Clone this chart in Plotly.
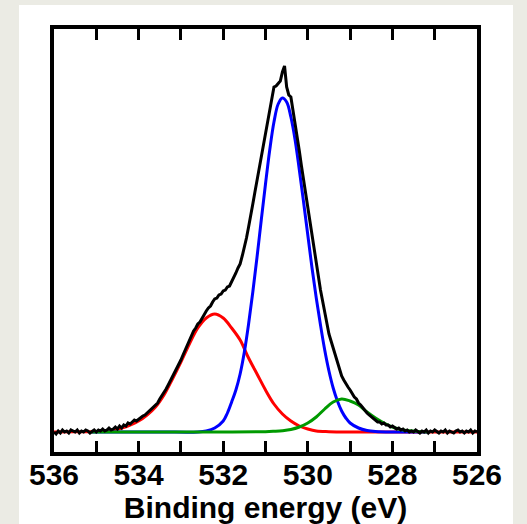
import plotly.graph_objects as go

# ---- data (binding energy in eV, intensity in arbitrary units) ----
energy_data = [round(536.0 - 0.05 * i, 2) for i in range(201)]
intensity_data = [
    0, -2, 1, -1, 2, 0, 1, -1, 2, 1,
    0, 2, -1, 1, 0, 2, 1, -1, 1, 2,
    0, 2, 1, 3, 1, 2, 4, 2, 3, 5,
    3, 6, 4, 7, 6, 9, 8, 10, 12, 11,
    13, 14, 16, 17, 19, 21, 22, 25, 27, 29,
    33, 36, 39, 43, 47, 51, 55, 60, 64, 68,
    72, 77, 82, 86, 92, 96, 101, 104, 108, 110,
    114, 117, 121, 124, 126, 130, 133, 134, 137, 138,
    141, 142, 145, 146, 150, 155, 159, 164, 168, 176,
    184, 194, 205, 215, 228, 240, 252, 263, 274, 288,
    300, 313, 324, 334, 345, 346, 349, 351, 360, 366,
    345, 337, 335, 322, 310, 296, 281, 266, 252, 239,
    226, 212, 197, 183, 170, 155, 142, 131, 119, 109,
    98, 91, 84, 77, 69, 62, 56, 52, 48, 45,
    42, 38, 35, 33, 29, 27, 24, 22, 19, 17,
    15, 13, 12, 10, 10, 8, 9, 7, 7, 5,
    6, 4, 3, 4, 2, 3, 1, 2, 0, 1,
    0, 2, 0, -1, 1, 0, 2, -1, 1, 0,
    2, 0, -1, 1, 0, 2, -1, 1, 0, -1,
    1, 2, 0, 1, -1, 1, 0, 2, -1, 1,
    0,
]

energy_red = [536.0, 535.5, 535.0, 534.8, 534.6, 534.4, 534.2, 534.0, 533.8, 533.6,
              533.4, 533.2, 533.0, 532.8, 532.6, 532.4, 532.2, 532.0, 531.8, 531.6,
              531.4, 531.2, 531.0, 530.8, 530.6, 530.4, 530.2, 530.0, 529.8, 529.5,
              529.0, 528.0, 527.0, 526.0]
intensity_red = [0, 0.2, 0.5, 1, 2, 4, 7, 11, 17, 25,
                 37, 53, 70, 88, 104, 114, 118, 114, 104, 92,
                 74, 58, 42, 28, 18, 11, 6, 3, 1, 0.3,
                 0, 0, 0, 0]

energy_blue = [535.1, 533.5, 532.6, 532.4, 532.2, 532.0, 531.9, 531.8, 531.7, 531.6,
               531.5, 531.4, 531.3, 531.2, 531.1, 531.0, 530.9, 530.8, 530.7, 530.6,
               530.5, 530.4, 530.3, 530.2, 530.1, 530.0, 529.9, 529.8, 529.7, 529.6,
               529.5, 529.4, 529.3, 529.2, 529.1, 529.0, 528.8, 528.6, 528.4, 528.0,
               527.15]
intensity_blue = [0, 0, 0, 1, 4, 11, 19, 30, 42, 58,
                  80, 108, 140, 175, 212, 248, 282, 310, 328, 334,
                  330, 315, 292, 262, 230, 197, 164, 134, 107, 82,
                  61, 44, 31, 21, 14, 9, 4, 1.5, 0.5, 0,
                  0]

energy_green = [535.1, 532.0, 531.0, 530.8, 530.6, 530.4, 530.2, 530.0, 529.8, 529.6,
                529.4, 529.2, 529.0, 528.8, 528.6, 528.4, 528.2, 528.0, 527.8, 527.6,
                527.4, 527.15]
intensity_green = [0, 0, 0.3, 0.7, 1.3, 2.5, 5, 9, 15, 23,
                   30, 33, 31, 27, 20, 14, 9, 5, 2.5, 1.2,
                   0.5, 0]

x_tick_values = [536, 535, 534, 533, 532, 531, 530, 529, 528, 527, 526]
x_tick_text = ["536", "", "534", "", "532", "", "530", "", "528", "", "526"]

# ---- figure ----
fig = go.Figure()
fig.add_trace(go.Scatter(x=energy_red, y=intensity_red, mode="lines",
                         line=dict(color="#ff0000", width=3, shape="spline")))
fig.add_trace(go.Scatter(x=energy_blue, y=intensity_blue, mode="lines",
                         line=dict(color="#0000ff", width=3, shape="spline")))
fig.add_trace(go.Scatter(x=energy_green, y=intensity_green, mode="lines",
                         line=dict(color="#009a00", width=3, shape="spline")))
fig.add_trace(go.Scatter(x=energy_data, y=intensity_data, mode="lines",
                         line=dict(color="#000000", width=3)))

font_family = "Liberation Sans, Arial, sans-serif"

# plot area geometry (pixels) used for the white panel shape
W, H = 527, 524
ml, mr, mt, mb = 54, 50, 29, 72
pw, ph = W - ml - mr, H - mt - mb

fig.add_shape(type="rect", xref="paper", yref="paper",
              x0=(19 - ml) / pw, x1=(513 - ml) / pw,
              y0=-(H + 20 - (H - mb)) / ph, y1=(H - mb - 5) / ph,
              fillcolor="white", line=dict(width=0), layer="below")

fig.update_layout(
    width=W, height=H,
    margin=dict(l=ml, r=mr, t=mt, b=mb, pad=0, autoexpand=False),
    paper_bgcolor="#ebebe4",
    plot_bgcolor="white",
    showlegend=False,
    font=dict(family=font_family, color="black"),
    xaxis=dict(
        range=[536, 526], automargin=False,
        tickvals=x_tick_values, ticktext=x_tick_text,
        ticks="inside", ticklen=11, tickwidth=2.5, tickcolor="black",
        ticklabelstandoff=-7,
        showline=True, linewidth=4, linecolor="black", mirror="allticks",
        showgrid=False, zeroline=False,
        tickfont=dict(size=30, family=font_family, weight="bold", color="black"),
        title=dict(text="Binding energy (eV)", standoff=10,
                   font=dict(size=30, family=font_family, weight="bold", color="black")),
    ),
    yaxis=dict(
        range=[-20, 403], automargin=False,
        showticklabels=False, ticks="",
        showline=True, linewidth=4, linecolor="black", mirror=True,
        showgrid=False, zeroline=False,
    ),
)

fig.write_html("out.html")
